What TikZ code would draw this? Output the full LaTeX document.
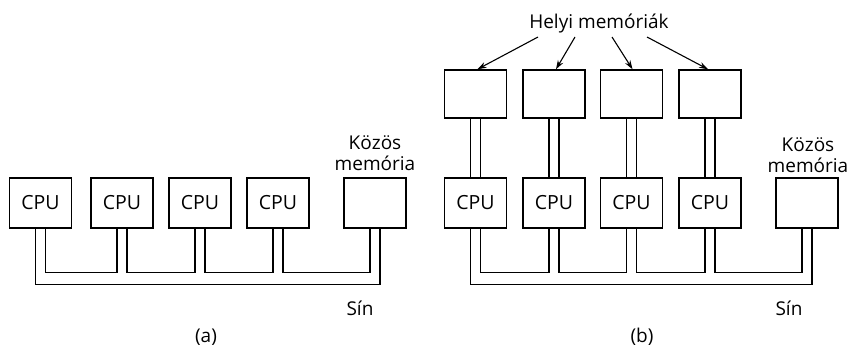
\documentclass[tikz,border=0pt]{standalone}
\usepackage{fontspec}
\setmainfont{Open Sans}
\usetikzlibrary{calc,arrows.meta}
\begin{document}
\begin{tikzpicture}[x=1pt,y=-1pt,
  txt/.style={font=\fontsize{19}{21}\selectfont, inner sep=0pt, align=center},
  box/.style={draw, line width=1.5pt, minimum width=62pt, minimum height=50pt, inner sep=0pt, font=\fontsize{19.5}{21}\selectfont},
  lbox/.style={box, minimum height=48pt},
  wire/.style={line width=1.4pt},
  arr/.style={line width=1.1pt, -{Stealth[length=9pt,width=6pt]}}]
\useasboundingbox (0,0) rectangle (847,356);
% (a)
\node[box] (a1) at (40.5,203) {CPU};
\node[box] (a2) at (122,203) {CPU};
\node[box] (a3) at (200,203) {CPU};
\node[box] (a4) at (278,203) {CPU};
\node[box] (am) at (375,203) {};
\node[txt] (ak) at (375,153) {Közös\\memória};
\draw[wire] ($(a1.south)+(-5,0)$) -- ($(a1.south)+(-5,56)$) -- ($(am.south)+(5,56)$) -- ($(am.south)+(5,0)$);
\foreach \p/\q in {a1/a2,a2/a3,a3/a4,a4/am}
  \draw[wire] ($(\p.south)+(5,0)$) -- ++(0,44) -| ($(\q.south)+(-5,0)$);
\node[txt] (as) at (360,308) {Sín};
\node[txt] (al) at (206,337) {(a)};
% (b)
\node[lbox] (l1) at (475.5,94) {};
\node[lbox] (l2) at (554,94) {};
\node[lbox] (l3) at (631.5,94) {};
\node[lbox] (l4) at (710,94) {};
\node[box] (b1) at (475.5,203) {CPU};
\node[box] (b2) at (554,203) {CPU};
\node[box] (b3) at (631.5,203) {CPU};
\node[box] (b4) at (710,203) {CPU};
\node[box] (bm) at (807,203) {};
\node[txt] (bk) at (808,155) {Közös\\memória};
\foreach \i in {1,2,3,4}{
  \draw[wire] ($(l\i.south)+(-5,0)$) -- ($(b\i.north)+(-5,0)$);
  \draw[wire] ($(l\i.south)+(5,0)$) -- ($(b\i.north)+(5,0)$);
}
\draw[wire] ($(b1.south)+(-5,0)$) -- ($(b1.south)+(-5,56)$) -- ($(bm.south)+(5,56)$) -- ($(bm.south)+(5,0)$);
\foreach \p/\q in {b1/b2,b2/b3,b3/b4,b4/bm}
  \draw[wire] ($(\p.south)+(5,0)$) -- ++(0,44) -| ($(\q.south)+(-5,0)$);
\node[txt] (bs) at (789,308) {Sín};
\node[txt] (bl) at (642,337) {(b)};
\node[txt] (hm) at (599,24) {Helyi memóriák};
\draw[arr] ($(hm.center)+(-61,13)$) -- ([xshift=2pt]l1.north);
\draw[arr] ($(hm.center)+(-24,13)$) -- ([xshift=2pt]l2.north);
\draw[arr] ($(hm.center)+(13,13)$) -- ([xshift=1pt]l3.north);
\draw[arr] ($(hm.center)+(48,13)$) -- ([xshift=-2pt]l4.north);
\end{tikzpicture}
\end{document}
